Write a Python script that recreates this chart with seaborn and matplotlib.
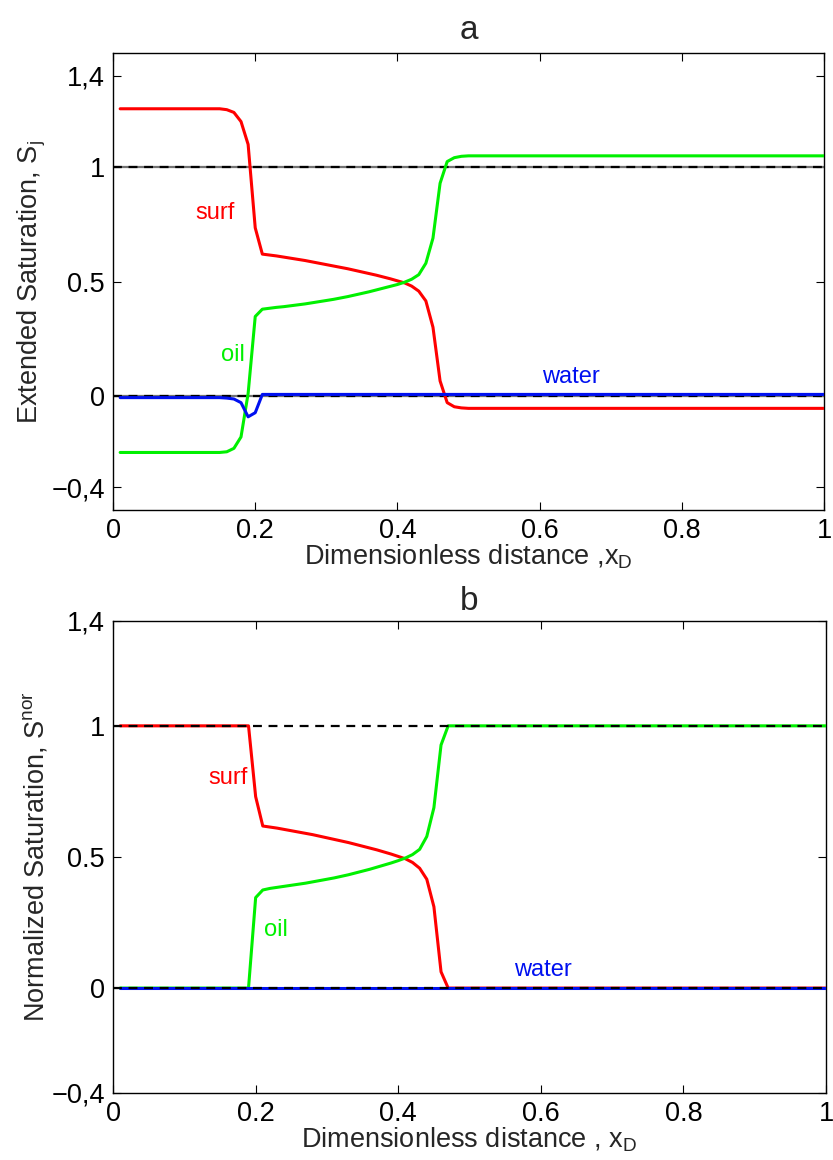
import numpy as np
import pandas as pd
import seaborn as sns
import matplotlib.pyplot as plt

# Data
x_d = [0.01, 0.15, 0.16, 0.17, 0.18, 0.19, 0.20, 0.21, 0.22, 0.23, 0.24, 0.25,
       0.26, 0.27, 0.28, 0.29, 0.30, 0.31, 0.32, 0.33, 0.34, 0.35, 0.36, 0.37,
       0.38, 0.39, 0.40, 0.41, 0.42, 0.43, 0.44, 0.45, 0.46, 0.47, 0.48, 0.49,
       0.50, 1.00]

# (a) extended saturations
surf_ext = [1.256, 1.256, 1.252, 1.240, 1.200, 1.100, 0.735, 0.620, 0.616, 0.612,
            0.607, 0.602, 0.597, 0.592, 0.586, 0.580, 0.574, 0.568, 0.562, 0.556,
            0.549, 0.542, 0.535, 0.528, 0.520, 0.512, 0.503, 0.494, 0.480, 0.458,
            0.415, 0.300, 0.065, -0.030, -0.048, -0.053, -0.055, -0.055]
oil_ext = [-0.248, -0.248, -0.245, -0.230, -0.180, 0.010, 0.347, 0.379, 0.383, 0.387,
           0.390, 0.394, 0.398, 0.402, 0.407, 0.412, 0.417, 0.422, 0.428, 0.434,
           0.441, 0.448, 0.455, 0.463, 0.471, 0.479, 0.487, 0.497, 0.510, 0.530,
           0.580, 0.690, 0.930, 1.025, 1.042, 1.048, 1.050, 1.050]
water_ext = [-0.008, -0.008, -0.010, -0.014, -0.030, -0.092, -0.074, 0.006, 0.006, 0.006,
             0.006, 0.006, 0.006, 0.006, 0.006, 0.006, 0.006, 0.006, 0.006, 0.006,
             0.006, 0.006, 0.006, 0.006, 0.006, 0.006, 0.006, 0.006, 0.006, 0.006,
             0.006, 0.006, 0.006, 0.006, 0.006, 0.006, 0.006, 0.006]

# (b) normalized saturations
surf_nor = [1.0, 1.0, 1.0, 1.0, 1.0, 1.0, 0.730, 0.618, 0.614, 0.610,
            0.605, 0.600, 0.595, 0.590, 0.585, 0.579, 0.573, 0.567, 0.561, 0.555,
            0.548, 0.541, 0.534, 0.527, 0.519, 0.511, 0.502, 0.493, 0.479, 0.457,
            0.415, 0.310, 0.062, 0.0, 0.0, 0.0, 0.0, 0.0]
oil_nor = [0.0, 0.0, 0.0, 0.0, 0.0, 0.0, 0.345, 0.374, 0.380, 0.384,
           0.388, 0.392, 0.396, 0.400, 0.405, 0.410, 0.415, 0.420, 0.426, 0.432,
           0.439, 0.446, 0.453, 0.461, 0.469, 0.477, 0.486, 0.496, 0.509, 0.529,
           0.578, 0.688, 0.927, 1.0, 1.0, 1.0, 1.0, 1.0]
water_nor = [0.0] * len(x_d)

x_ticks = [0, 0.2, 0.4, 0.6, 0.8, 1]
x_ticklabels = ["0", "0.2", "0.4", "0.6", "0.8", "1"]
y_ticks = [-0.4, 0, 0.5, 1, 1.4]
y_ticklabels = ["\u22120,4", "0", "0.5", "1", "1,4"]

RED = "#ff0000"
GREEN = "#00f000"
BLUE = "#0010f0"

sns.set_style("ticks")
plt.rcParams["font.family"] = ["Liberation Sans", "DejaVu Sans"]
plt.rcParams["mathtext.fontset"] = "custom"
plt.rcParams["mathtext.rm"] = "Liberation Sans"
plt.rcParams["mathtext.it"] = "Liberation Sans"

fig = plt.figure(figsize=(8.33, 11.6), dpi=100)
ax_a = fig.add_axes([0.1357, 0.5603, 0.8535, 0.3940])
ax_b = fig.add_axes([0.1357, 0.0578, 0.8560, 0.4069])


def style_axes(ax):
    ax.set_xlim(0, 1)
    ax.set_xticks(x_ticks)
    ax.set_xticklabels(x_ticklabels)
    ax.set_yticks(y_ticks)
    ax.set_yticklabels(y_ticklabels)
    ax.tick_params(direction="in", top=True, right=True, length=6, width=0.8,
                   labelsize=19.5, pad=6, colors="black")
    for sp in ax.spines.values():
        sp.set_visible(True)
        sp.set_linewidth(1.0)
        sp.set_color("black")


# ---- panel a ----
ax = ax_a
for yv in (0, 1):
    ax.axhline(yv, color="0.45", lw=1.6, zorder=1)
    ax.axhline(yv, color="black", lw=1.6, ls=(0, (4, 3)), zorder=2)
sns.lineplot(x=x_d, y=surf_ext, color=RED, lw=2.2, ax=ax, zorder=3)
sns.lineplot(x=x_d, y=oil_ext, color=GREEN, lw=2.2, ax=ax, zorder=3)
sns.lineplot(x=x_d, y=water_ext, color=BLUE, lw=2.2, ax=ax, zorder=4)
ax.set_ylim(-0.5, 1.5)
style_axes(ax)
ax.text(0.143, 0.80, "surf", color=RED, fontsize=17, ha="center", va="center")
ax.text(0.169, 0.18, "oil", color=GREEN, fontsize=17, ha="center", va="center")
ax.text(0.644, 0.083, "water", color=BLUE, fontsize=17, ha="center", va="center")
ax.set_title("a", fontsize=24, pad=10)
ax.set_xlabel("Dimensionless distance ,x$_\\mathregular{D}$", fontsize=19.5, labelpad=-1)
ax.set_ylabel("Extended Saturation, S$_\\mathregular{j}$", fontsize=19.5, labelpad=2)

# ---- panel b ----
ax = ax_b
sns.lineplot(x=x_d, y=surf_nor, color=RED, lw=2.2, ax=ax, zorder=3)
sns.lineplot(x=x_d, y=oil_nor, color=GREEN, lw=2.2, ax=ax, zorder=3)
sns.lineplot(x=x_d, y=water_nor, color=BLUE, lw=2.2, ax=ax, zorder=4)
for yv in (0, 1):
    ax.axhline(yv, color="black", lw=1.6, ls=(0, (4, 3)), zorder=5)
ax.set_ylim(-0.4, 1.4)
style_axes(ax)
ax.text(0.162, 0.80, "surf", color=RED, fontsize=17, ha="center", va="center")
ax.text(0.229, 0.22, "oil", color=GREEN, fontsize=17, ha="center", va="center")
ax.text(0.603, 0.069, "water", color=BLUE, fontsize=17, ha="center", va="center")
ax.set_title("b", fontsize=24, pad=8)
ax.set_xlabel("Dimensionless distance , x$_\\mathregular{D}$", fontsize=19.5, labelpad=-1)
ax.set_ylabel("Normalized Saturation, S$^\\mathregular{nor}$", fontsize=19.5, labelpad=1)

fig.savefig("out.png", dpi=100)
